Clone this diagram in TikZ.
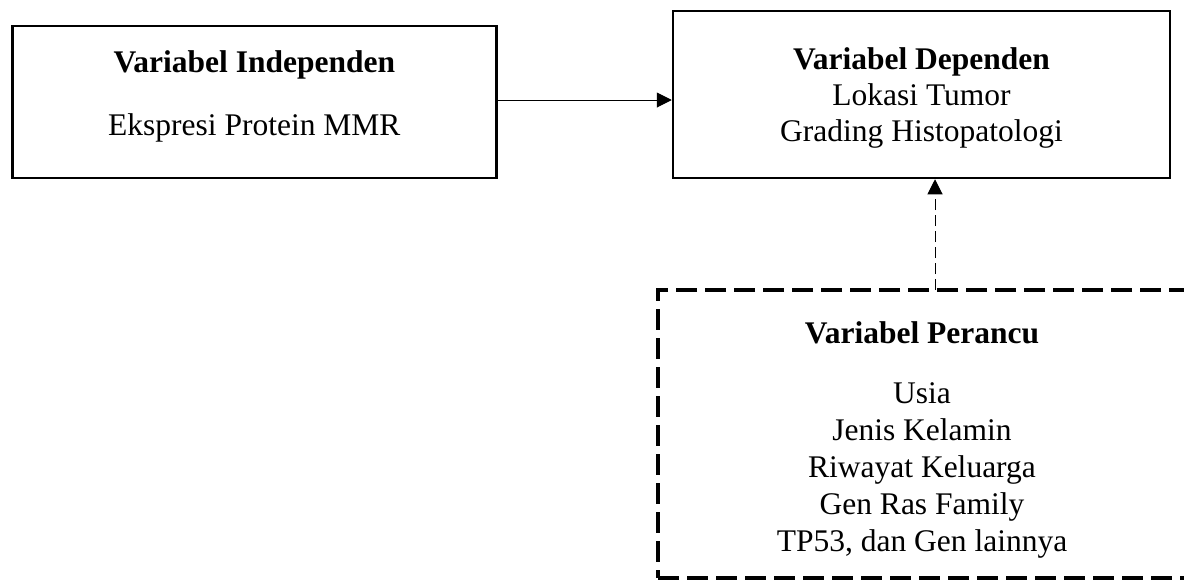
\documentclass[tikz,border=0pt]{standalone}
\usepackage{fontspec}
\setmainfont{Liberation Serif}
\usetikzlibrary{arrows.meta}

\tikzset{
  varbox/.style={draw,line width=2.5pt,inner sep=0pt},
  dashbox/.style={draw,line width=3.2pt,dash pattern=on 21pt off 8pt,inner sep=0pt},
  vartext/.style={anchor=base,inner sep=0pt,font=\fontsize{31.5}{36.5}\selectfont},
  arr/.style={line width=1pt,-{Triangle[length=15pt,width=15pt]}},
}

\begin{document}
\begin{tikzpicture}[x=1pt,y=-1pt]
\useasboundingbox (0,0) rectangle (1184,579);
% boxes
\node[varbox,minimum width=484,minimum height=152] (indep) at (254.3,102) {};
\node[varbox,minimum width=497,minimum height=167] (dep) at (921.5,94.5) {};
\node[dashbox,minimum width=528,minimum height=288] (perancu) at (922,434) {};
% texts
\node[vartext] (indeptitle) at (254.3,72) {\textbf{Variabel Independen}};
\node[vartext] (indepitem) at (254.3,135) {Ekspresi Protein MMR};
\node[vartext] (deptitle) at (921.5,69) {\textbf{Variabel Dependen}};
\node[vartext] (lokasi) at (921.5,105) {Lokasi Tumor};
\node[vartext] (grading) at (921.5,141) {Grading Histopatologi};
\node[vartext] (perancutitle) at (922,343) {\textbf{Variabel Perancu}};
\foreach \txt [count=\i] in {Usia,Jenis Kelamin,Riwayat Keluarga,Gen Ras Family,{TP53, dan Gen lainnya}}
  \node[vartext] (item\i) at (922,366+37*\i) {\txt};
% connectors
\coordinate (link) at (935,290);
\draw[arr] ([yshift=2pt]indep.east) -- ([yshift=2pt]indep.east -| dep.west);
\draw[arr,dash pattern=on 11pt off 5pt] (link) -- (link |- dep.south);
\end{tikzpicture}
\end{document}
